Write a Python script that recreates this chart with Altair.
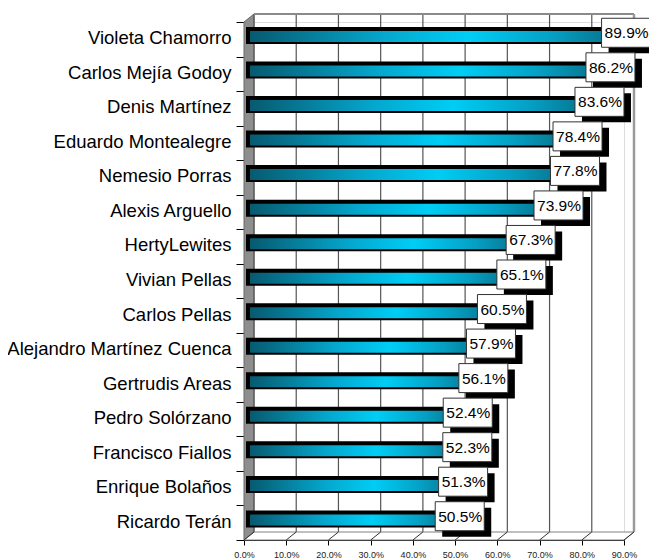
import altair as alt
import pandas as pd

names = ["Violeta Chamorro", "Carlos Mejía Godoy", "Denis Martínez", "Eduardo Montealegre",
         "Nemesio Porras", "Alexis Arguello", "HertyLewites", "Vivian Pellas", "Carlos Pellas",
         "Alejandro Martínez Cuenca", "Gertrudis Areas", "Pedro Solórzano", "Francisco Fiallos",
         "Enrique Bolaños", "Ricardo Terán"]
values = [0.899, 0.862, 0.836, 0.784, 0.778, 0.739, 0.673, 0.651, 0.605, 0.579, 0.561,
          0.524, 0.523, 0.513, 0.505]
ticks = [0.0, 0.1, 0.2, 0.3, 0.4, 0.5, 0.6, 0.7, 0.8, 0.9]

df = pd.DataFrame({"name": names, "v": values, "z": [0.0] * len(values)})
tdf = pd.DataFrame({"t": ticks})
one = pd.DataFrame({"a": [ticks[0]], "b": [ticks[-1]]})

W, H = 380, 518
xscale = alt.Scale(domain=[0, 0.9], nice=False, zero=True)
xaxis = alt.Axis(values=ticks, format=".1%", title=None, grid=False, tickSize=5,
                 tickColor="black", domainColor="black", labelFontSize=9,
                 labelColor="#222", labelPadding=5, labelFont="Liberation Sans",
                 labelFlush=False)
yaxis = alt.Axis(title=None, tickBand="extent", tickSize=8, tickColor="black",
                 domainColor="black", labelFontSize=18.5, labelColor="black",
                 labelPadding=5, labelFont="Liberation Sans", grid=False, labelLimit=400,
                 labelOffset=-1.5)
yenc = alt.Y("name:N", sort=names, scale=alt.Scale(paddingInner=0, paddingOuter=0), axis=yaxis)


def X(field):
    return alt.X(field, scale=xscale, axis=xaxis)


# back wall grid lines
grid = alt.Chart(tdf).mark_rule(color="#555555", strokeWidth=1.2, xOffset=10).encode(
    x=X("t:Q"), y=alt.value(-8), y2=alt.value(510))
topedge = alt.Chart(one).mark_rule(color="#8a8a8a", strokeWidth=2, xOffset=10, x2Offset=10).encode(
    x=X("a:Q"), x2="b:Q", y=alt.value(-8))
rightedge = alt.Chart(one).mark_rule(color="#9a9a9a", strokeWidth=2.5, xOffset=10).encode(
    x=X("b:Q"), y=alt.value(-8), y2=alt.value(510))

# left wall and floor (3D frame)
wall = alt.Chart(one).mark_point(shape="M0,0L10,-8L10,510L0,518Z", size=4, filled=True,
                                 fill="#8e8e8e", stroke="#6a6a6a", strokeWidth=1, opacity=1).encode(
    x=X("a:Q"), y=alt.value(0))
floor = alt.Chart(one).mark_point(shape="M0,518L10,510L390,510L380,518Z", size=4, filled=True,
                                  fill="#ffffff", stroke="#808080", strokeWidth=1, opacity=1).encode(
    x=X("a:Q"), y=alt.value(0))
diag = alt.Chart(tdf).mark_rule(color="#303030", strokeWidth=1, x2Offset=10).encode(
    x=X("t:Q"), x2="t:Q", y=alt.value(518), y2=alt.value(510))

# bars
barback = alt.Chart(df).mark_bar(color="black", height=17, yOffset=-3.8, xOffset=5, x2Offset=2).encode(
    x=X("v:Q"), x2="z:Q", y=yenc)
barfill = alt.Chart(df).mark_bar(height=11, yOffset=-2.8, xOffset=3, x2Offset=6,
                                 color={"gradient": "linear", "x1": 0, "x2": 1, "y1": 0, "y2": 0,
                                        "stops": [{"color": "#075a70", "offset": 0},
                                                  {"color": "#05a6cc", "offset": 0.35},
                                                  {"color": "#00cdf5", "offset": 0.58},
                                                  {"color": "#05a0c4", "offset": 0.8},
                                                  {"color": "#086880", "offset": 1}]}).encode(
    x=X("v:Q"), x2="z:Q", y=yenc)

# value labels
lshadow = alt.Chart(df).mark_bar(color="black", height=29, yOffset=-0.5, xOffset=-15, x2Offset=34).encode(
    x=X("v:Q"), x2="v:Q", y=yenc)
lbox = alt.Chart(df).mark_bar(fill="white", stroke="#333", strokeWidth=1, height=29, yOffset=-6.5,
                              xOffset=-22, x2Offset=27).encode(
    x=X("v:Q"), x2="v:Q", y=yenc)
ltext = alt.Chart(df).mark_text(fontSize=15.5, font="Liberation Sans", color="black", align="center",
                                baseline="middle", xOffset=3, yOffset=-6).encode(
    x=X("v:Q"), y=yenc, text=alt.Text("v:Q", format=".1%"))

chart = alt.layer(wall, grid, topedge, rightedge, floor, diag, barback, barfill,
                  lshadow, lbox, ltext).properties(
    width=W, height=H, autosize="none",
    padding={"left": 236, "top": 14, "right": 25, "bottom": 20}
).configure_view(stroke=None).configure(background="white")

chart.save("out.html", embed_options={"renderer": "svg", "actions": False})
